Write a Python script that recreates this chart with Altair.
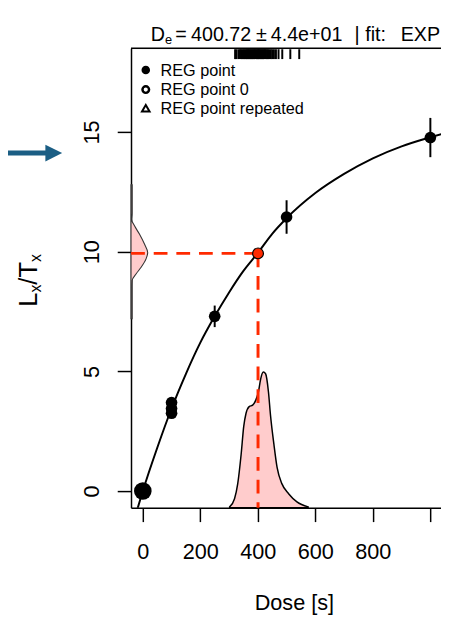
import altair as alt
import pandas as pd

# ---------------- data ----------------
reg_dose = [0, 100, 100, 100, 250, 500, 1000]
reg_lxtx = [0.0, 3.25, 3.45, 3.7, 7.3, 11.45, 14.77]
reg_err = [0.05, 0.1, 0.1, 0.1, 0.45, 0.7, 0.82]
reg_kind = ["REG point 0", "REG point", "REG point", "REG point", "REG point", "REG point", "REG point"]

curve_dose = [-20, 0, 50, 100, 150, 200, 250, 300, 350, 400, 450, 500, 600, 700, 800, 900, 1000, 1040]
curve_lxtx = [-0.8, 0.0, 1.8, 3.45, 4.9, 6.2, 7.3, 8.3, 9.2, 9.95, 10.75, 11.4, 12.45, 13.25, 13.9, 14.4, 14.78, 14.92]

de_dose = [400.72]
de_lxtx = [9.93]

dens_dose = [302, 319, 330, 342, 351, 359, 370, 382, 393, 402, 410, 419, 427, 437, 444, 456, 467, 484, 507, 536, 575]
dens_lxtx = [-0.66, -0.32, 0.30, 1.54, 2.70, 3.25, 3.53, 3.59, 3.80, 4.14, 4.69, 4.97, 4.90, 4.14, 3.18, 1.95, 0.99, 0.30, -0.11, -0.45, -0.66]

left_dens_lxtx = [12.8, 11.6, 11.35, 11.07, 10.73, 10.32, 9.97, 9.70, 9.35, 9.08, 8.81, 8.5, 7.2]
left_dens_dose = [-37, -37, -38.6, -28.4, -11.3, 5.8, 17.0, 11.3, -5.8, -22.9, -36.6, -37, -37]

rug_dose = [321, 326, 333, 338, 342, 346, 350, 353, 357, 360, 363, 366, 369, 372, 375, 378, 381,
            384, 387, 390, 393, 396, 399, 401, 404, 407, 410, 413, 416, 419, 422, 425, 428, 432,
            436, 440, 445, 450, 456, 463, 472, 485, 513, 544]

x_ticks = [0, 200, 400, 600, 800, 1000]
y_ticks = [0, 5, 10, 15]
x_domain = [-41, 1037]
y_domain = [-0.7, 18.5]
legend_labels = ["REG point", "REG point 0", "REG point repeated"]
title_parts = ["D", "e", "=", "400.72", "±", "4.4e+01", "|", "fit:", "EXP"]
ylab_parts = ["L", "x", "/T", "x"]
xlab = ["Dose [s]"]

# ---------------- layout ----------------
W, H = 315, 467
FONT = "Liberation Sans"
RED = "#ff2a00"

xs = alt.Scale(domain=x_domain, nice=False, zero=False)
ys = alt.Scale(domain=y_domain, nice=False, zero=False)
xaxis = alt.Axis(values=x_ticks, labelExpr="datum.value >= 1000 ? '' : datum.label", title=None,
                 grid=False, tickSize=14, tickWidth=1.5, tickColor="black", domainColor="black",
                 domainWidth=1.5, labelFontSize=22, labelColor="black", labelPadding=21,
                 labelBaseline="top", labelFlush=False, labelOverlap=False, labelFont=FONT)
yaxis = alt.Axis(values=y_ticks, title=None, grid=False, tickSize=14, tickWidth=1.5, tickColor="black",
                 domainColor="black", domainWidth=1.5, labelFontSize=22, labelColor="black",
                 labelAngle=270, labelAlign="center", labelBaseline="alphabetic", labelPadding=19,
                 labelFlush=False, labelOverlap=False, labelFont=FONT)


def X(f="dose"):
    return alt.X(f"{f}:Q", scale=xs, axis=xaxis)


def Y(f="lxtx"):
    return alt.Y(f"{f}:Q", scale=ys, axis=yaxis)


reg = pd.DataFrame({"dose": reg_dose, "lxtx": reg_lxtx, "err": reg_err, "kind": reg_kind})
reg["lo"] = reg["lxtx"] - reg["err"]
reg["hi"] = reg["lxtx"] + reg["err"]
curve = pd.DataFrame({"dose": curve_dose, "lxtx": curve_lxtx})
de = pd.DataFrame({"dose": de_dose, "lxtx": de_lxtx})
dens = pd.DataFrame({"dose": dens_dose, "lxtx": dens_lxtx})
dens["base"] = y_domain[0]
ldens = pd.DataFrame({"dose": left_dens_dose, "lxtx": left_dens_lxtx})
ldens["base"] = x_domain[0]
rug = pd.DataFrame({"dose": rug_dose})
one = pd.DataFrame({"a": [0]})

layers = []

# bottom density of De
layers.append(alt.Chart(dens).mark_area(fill="#ffcccc", stroke="black", strokeWidth=1.5, interpolate="monotone").encode(
    x=X(), y=Y(), y2=alt.Y2("base:Q")))

# left density of Lx/Tx
layers.append(alt.Chart(ldens).mark_area(orient="horizontal", fill="#ffcccc", stroke="#333333", strokeWidth=1.1,
                                         interpolate="monotone").encode(
    y=Y(), x=X(), x2=alt.X2("base:Q")))

# red dashed lines
layers.append(alt.Chart(de).mark_rule(color=RED, strokeWidth=3, strokeDash=[14, 9]).encode(
    x=X(), x2=alt.value(0), y=Y()))
layers.append(alt.Chart(de).mark_rule(color=RED, strokeWidth=3, strokeDash=[14, 9]).encode(
    x=X(), y=Y(), y2=alt.value(H)))

# fitted curve
layers.append(alt.Chart(curve).mark_line(color="black", strokeWidth=2, interpolate="monotone", clip=True).encode(
    x=X(), y=Y()))

# error bars
layers.append(alt.Chart(reg).mark_rule(color="black", strokeWidth=2).encode(
    x=X(), y=Y("lo"), y2=alt.Y2("hi:Q")))

# points
layers.append(alt.Chart(reg).mark_circle(color="black", opacity=1).encode(
    x=X(), y=Y(),
    size=alt.Size("kind:N", scale=alt.Scale(domain=["REG point", "REG point 0"], range=[140, 320]), legend=None)))

# De point
layers.append(alt.Chart(de).mark_point(filled=True, fill=RED, stroke="black", strokeWidth=1.2, size=120, opacity=1).encode(
    x=X(), y=Y()))

# rug
layers.append(alt.Chart(rug).mark_rule(color="black", strokeWidth=2).encode(
    x=X(), y=alt.value(1), y2=alt.value(11)))

# top border
layers.append(alt.Chart(one).mark_rule(color="black", strokeWidth=1.5).encode(
    x=alt.value(0), x2=alt.value(W + 2), y=alt.value(0)))

# legend
leg_y = [22, 42, 61]
layers.append(alt.Chart(one).mark_point(shape="circle", filled=True, color="black", size=75, opacity=1).encode(
    x=alt.value(15), y=alt.value(leg_y[0])))
layers.append(alt.Chart(one).mark_point(shape="circle", filled=False, color="black", strokeWidth=2.5, size=45, opacity=1).encode(
    x=alt.value(15), y=alt.value(leg_y[1])))
layers.append(alt.Chart(one).mark_point(shape="triangle-up", filled=False, color="black", strokeWidth=2, size=60, opacity=1).encode(
    x=alt.value(15), y=alt.value(leg_y[2])))
for lab, yy in zip(legend_labels, leg_y):
    layers.append(alt.Chart(pd.DataFrame({"t": [lab]})).mark_text(align="left", baseline="middle", fontSize=16.5, font=FONT, color="black").encode(
        x=alt.value(30), y=alt.value(yy + 1), text="t:N"))

# title (with subscript), pieces placed as in the reference
title_x = [20, 34.5, 45, 61, 127, 142, 227, 238, 274]
title_fs = [20, 13, 20, 20, 20, 20, 20, 20, 20]
title_dy = [-7, -4, -7, -7, -7, -7, -7, -7, -7]
for part, px, fs, py in zip(title_parts, title_x, title_fs, title_dy):
    layers.append(alt.Chart(pd.DataFrame({"t": [part]})).mark_text(align="left", baseline="alphabetic", fontSize=fs, font=FONT, color="black").encode(
        x=alt.value(px), y=alt.value(py), text="t:N"))

# y-axis title Lx/Tx (rotated)
ylab_pos = [(-96, 262.7, 26), (-91.5, 248.2, 16), (-96, 240.2, 26), (-91.5, 217.1, 16)]
for part, (px, py, fs) in zip(ylab_parts, ylab_pos):
    layers.append(alt.Chart(pd.DataFrame({"t": [part]})).mark_text(align="left", baseline="alphabetic", angle=270, fontSize=fs, font=FONT, color="black").encode(
        x=alt.value(px), y=alt.value(py), text="t:N"))

# x-axis title
layers.append(alt.Chart(pd.DataFrame({"t": xlab})).mark_text(align="center", baseline="alphabetic", fontSize=22, font=FONT, color="black").encode(
    x=alt.value(166), y=alt.value(571), text="t:N"))

# blue arrow (annotation)
layers.append(alt.Chart(one).mark_rule(color="#1b5e84", strokeWidth=5).encode(
    x=alt.value(-125), x2=alt.value(-84), y=alt.value(106.5)))
layers.append(alt.Chart(one).mark_point(shape="M-1,-1L1,0L-1,1Z", filled=True, color="#1b5e84", size=290, opacity=1).encode(
    x=alt.value(-78.5), y=alt.value(106.5)))

chart = alt.layer(*layers).properties(
    width=W, height=H,
    autosize=alt.AutoSizeParams(type="none"),
    padding={"left": 125, "top": 36, "right": 0, "bottom": 104},
    background="white",
).configure_view(stroke="transparent").configure(font=FONT)

chart.save("out.html", embed_options={"renderer": "svg", "actions": False})
